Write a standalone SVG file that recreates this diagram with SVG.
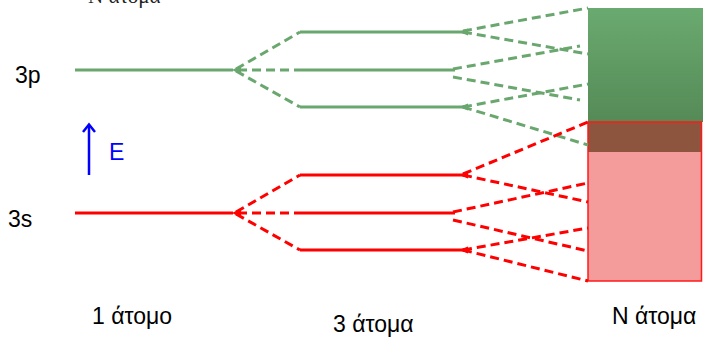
<svg xmlns="http://www.w3.org/2000/svg" width="703" height="338" viewBox="0 0 703 338">
  <defs>
    <linearGradient id="gg" x1="0" y1="0" x2="0" y2="1">
      <stop offset="0" stop-color="#6aaa70"/>
      <stop offset="1" stop-color="#558a56"/>
    </linearGradient>
  </defs>
  <style>
    .lbl { font-family: "Liberation Sans", Arial, sans-serif; font-size: 23px; fill: #000; }
    .g { stroke: #6aa76f; stroke-width: 3; fill: none; }
    .r { stroke: #ff0000; stroke-width: 3; fill: none; }
    .d { stroke-dasharray: 9 5; }
    .gt { fill: #6aa76f; }
    .rt { fill: #ff0000; }
  </style>
  <rect width="703" height="338" fill="#fff"/>
  <text x="88" y="3" style="font-family:'Liberation Serif','Times New Roman',serif;font-size:21px;fill:#222">N άτομα</text>

  <g id="band">
    <rect x="588" y="8" width="115" height="114" fill="url(#gg)"/>
    <rect x="588" y="122" width="114" height="30" fill="#8e553e"/>
    <rect x="588" y="152" width="114" height="129" fill="#f49b9b"/>
    <rect x="588" y="122" width="113.5" height="159" fill="none" stroke="#ff1a1a" stroke-width="1.5"/>
  </g>

  <g id="level-3p">
    <text class="lbl" x="15" y="83">3p</text>
  </g>
  <g id="level-3s">
    <text class="lbl" x="8" y="227">3s</text>
  </g>
  <g id="energy-axis">
    <line x1="89" y1="175" x2="89" y2="126" stroke="#0000ff" stroke-width="2.5"/>
    <polyline points="83,132 89,124.5 95,132" fill="none" stroke="#0000ff" stroke-width="2.5"/>
    <text class="lbl" x="109" y="160" style="fill:#0000ff">E</text>
  </g>

  <g id="connectors">
    <!-- green 3p -->
    <line class="g" x1="75" y1="70" x2="233" y2="70"/>
    <line class="g d" x1="236" y1="69" x2="300" y2="32"/>
    <line class="g d" x1="238" y1="70" x2="300" y2="70"/>
    <line class="g d" x1="236" y1="71" x2="300" y2="107"/>
    <polygon class="gt" points="232,70 241,65.5 241,74.5"/>
    <line class="g" x1="300" y1="32" x2="465" y2="32"/>
    <line class="g" x1="300" y1="70" x2="455" y2="70"/>
    <line class="g" x1="300" y1="107" x2="465" y2="107"/>
    <polygon class="gt" points="459,32 468,28.5 468,35.5"/>
    <polygon class="gt" points="459,107 468,103.5 468,110.5"/>
    <line class="g d" x1="463" y1="31" x2="588" y2="8"/>
    <line class="g d" x1="463" y1="32" x2="588" y2="54"/>
    <line class="g d" x1="453" y1="69" x2="580" y2="46"/>
    <line class="g d" x1="453" y1="77" x2="580" y2="100"/>
    <line class="g d" x1="463" y1="107" x2="588" y2="84"/>
    <line class="g d" x1="463" y1="107" x2="588" y2="145"/>

    <!-- red 3s -->
    <line class="r" x1="75" y1="213" x2="233" y2="213"/>
    <line class="r d" x1="236" y1="212" x2="300" y2="175"/>
    <line class="r d" x1="238" y1="213" x2="300" y2="213"/>
    <line class="r d" x1="236" y1="214" x2="300" y2="250"/>
    <polygon class="rt" points="232,213 241,208.5 241,217.5"/>
    <line class="r" x1="300" y1="175" x2="465" y2="175"/>
    <line class="r" x1="300" y1="213" x2="455" y2="213"/>
    <line class="r" x1="300" y1="250" x2="465" y2="250"/>
    <polygon class="rt" points="459,175 468,171.5 468,178.5"/>
    <polygon class="rt" points="459,250 468,246.5 468,253.5"/>
    <line class="r d" x1="463" y1="174" x2="588" y2="122"/>
    <line class="r d" x1="463" y1="175" x2="588" y2="202"/>
    <line class="r d" x1="453" y1="212" x2="588" y2="183"/>
    <line class="r d" x1="453" y1="220" x2="588" y2="251"/>
    <line class="r d" x1="463" y1="250" x2="588" y2="228"/>
    <line class="r d" x1="463" y1="250" x2="588" y2="281"/>
  </g>

  <g id="labels">
    <text class="lbl" x="92" y="324">1 άτομο</text>
    <text class="lbl" x="333" y="332">3 άτομα</text>
    <text class="lbl" x="612" y="324">N άτομα</text>
  </g>
</svg>
